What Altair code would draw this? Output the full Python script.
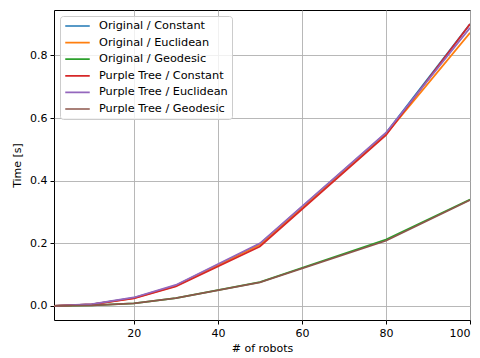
import altair as alt
import pandas as pd

robots = [1, 10, 20, 30, 50, 80, 100]
series_names = [
    "Original / Constant",
    "Original / Euclidean",
    "Original / Geodesic",
    "Purple Tree / Constant",
    "Purple Tree / Euclidean",
    "Purple Tree / Geodesic",
]
orig_constant = [0.0, 0.005, 0.026, 0.065, 0.198, 0.552, 0.900]
orig_euclidean = [0.0, 0.005, 0.025, 0.064, 0.195, 0.548, 0.872]
orig_geodesic = [0.0, 0.002, 0.008, 0.025, 0.076, 0.212, 0.340]
pt_constant = [0.0, 0.005, 0.024, 0.062, 0.190, 0.545, 0.900]
pt_euclidean = [0.0, 0.006, 0.027, 0.067, 0.200, 0.553, 0.888]
pt_geodesic = [0.0, 0.002, 0.008, 0.025, 0.075, 0.208, 0.338]
colors = ["#1f77b4", "#ff7f0e", "#2ca02c", "#d62728", "#9467bd", "#8c564b"]

all_values = [orig_constant, orig_euclidean, orig_geodesic, pt_constant, pt_euclidean, pt_geodesic]
rows = []
for i, (name, vals) in enumerate(zip(series_names, all_values)):
    for r, v in zip(robots, vals):
        rows.append({"robots": r, "time": v, "series": name, "order": i})
df = pd.DataFrame(rows)

FONT = "DejaVu Sans"

chart = alt.Chart(df).mark_line(strokeWidth=1.7, clip=True).encode(
    x=alt.X("robots:Q", title="# of robots",
            scale=alt.Scale(domain=[1, 100], nice=False, zero=False),
            axis=alt.Axis(values=[20, 40, 60, 80, 100])),
    y=alt.Y("time:Q", title="Time [s]",
            scale=alt.Scale(domain=[-0.045, 0.945], nice=False, zero=False),
            axis=alt.Axis(values=[0, 0.2, 0.4, 0.6, 0.8], format=".1f")),
    color=alt.Color("series:N", title=None,
                    scale=alt.Scale(domain=series_names, range=colors),
                    legend=alt.Legend(orient="none", legendX=6, legendY=6,
                                      symbolType="stroke", symbolSize=600,
                                      symbolStrokeWidth=1.7, clipHeight=12,
                                      labelFont=FONT, labelFontSize=11.3, labelColor="black",
                                      rowPadding=4.6, labelOffset=8,
                                      padding=4, fillColor="rgba(255,255,255,0.8)",
                                      strokeColor="#cccccc", cornerRadius=3)),
    order=alt.Order("order:Q"),
).properties(
    width=416, height=310,
    padding={"left": 54, "top": 10, "right": 10, "bottom": 38},
    autosize=alt.AutoSizeParams(type="none"),
    background="white",
).configure_view(
    stroke="black", strokeWidth=1
).configure_axis(
    labelFont=FONT, titleFont=FONT, labelFontSize=11, titleFontSize=11,
    titleFontWeight="normal", labelColor="black", titleColor="black",
    domain=False, tickColor="black", tickSize=4, tickWidth=1,
    gridColor="#b0b0b0", gridWidth=0.9, labelPadding=3,
).configure_axisX(
    titlePadding=4,
).configure_axisY(
    titlePadding=7,
)

chart.save("out.html", embed_options={"renderer": "svg", "actions": False})
